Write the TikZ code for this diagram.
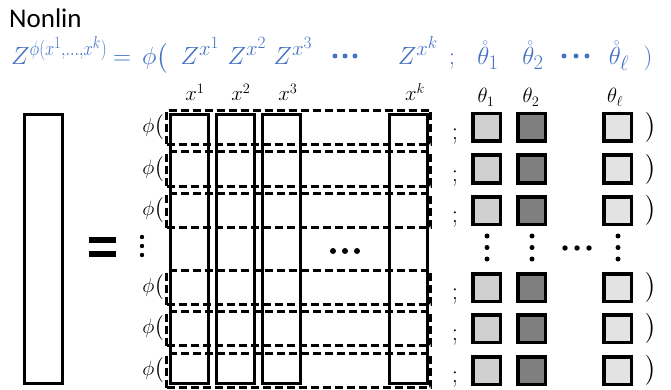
\documentclass[tikz,border=0pt]{standalone}
\usepackage{amsmath,amssymb}
\usepackage[no-math]{fontspec}
\usetikzlibrary{positioning}
\newfontfamily\titlefont{Carlito}
\definecolor{zblue}{RGB}{68,114,196}
\definecolor{thlight}{RGB}{208,208,208}
\definecolor{thdark}{RGB}{127,127,127}
\definecolor{thpale}{RGB}{227,227,227}

\begin{document}
\begin{tikzpicture}[x=1pt, y=-1pt,
    colbox/.style={draw, line width=3pt, inner sep=0pt,
                   minimum width=38pt, minimum height=269pt},
    rowbox/.style={draw, line width=3pt, dash pattern=on 8pt off 4pt,
                   inner sep=0pt, minimum width=264pt, minimum height=34pt},
    parbox/.style={draw, line width=3.5pt, inner sep=0pt, minimum size=27.5pt},
    lbl/.style={anchor=base, inner sep=0pt, font=\fontsize{20.74}{24}\selectfont},
    eqn/.style={anchor=base, inner sep=0pt, text=zblue,
                font=\fontsize{24.88}{30}\selectfont}
  ]
  \useasboundingbox (0,0) rectangle (671,390);

  % title and formula
  \node[anchor=base west, inner sep=0pt, font=\titlefont\fontsize{27}{32}\selectfont]
    (title) at (9,28) {Nonlin};
  \node[eqn, anchor=base west] (lhs) at (11,65)
    {$Z^{\scalebox{0.8}[1]{$\scriptstyle\phi(x^1,\ldots,x^k)$}}$};
  \node[eqn] (eq) at (122,65) {$=$};
  \node[eqn] (open) at (155,65) {$\phi\big($};
  \node[eqn] (z1) at (200,65) {$Z^{x^1}$};
  \node[eqn] (z2) at (247,65) {$Z^{x^2}$};
  \node[eqn] (z3) at (293,65) {$Z^{x^3}$};
  \node[eqn] (zk) at (418,65) {$Z^{x^k}$};
  \node[eqn] (semi) at (452,65) {$;$};
  \node[eqn] (t1) at (488,65) {$\mathring{\theta}_1$};
  \node[eqn] (t2) at (533,65) {$\mathring{\theta}_2$};
  \node[eqn] (tl) at (619,65) {$\mathring{\theta}_\ell$};
  \node[eqn] (close) at (648,65) {$)$};
  \foreach \xx in {335,345,355,564,576,587}
    \fill[zblue] (\xx,56) circle (2.5);

  % left column and equals
  \node[colbox] (out) at (43.5,249) {};
  \fill (89,237) rectangle (116,243);
  \fill (89,250.5) rectangle (116,257);

  % input columns
  \foreach \c/\xx in {1/189.5, 2/235.5, 3/281.5, k/408.5}
    \node[colbox] (col\c) at (\xx,249) {};
  \node[lbl] (lx1) at (195,101) {$x^1$};
  \node[lbl] (lx2) at (241,101) {$x^2$};
  \node[lbl] (lx3) at (288,101) {$x^3$};
  \node[lbl] (lxk) at (415,101) {$x^k$};
  \node[lbl] (lt1) at (486,103) {$\theta_1$};
  \node[lbl] (lt2) at (531,103) {$\theta_2$};
  \node[lbl] (ltl) at (615,103) {$\theta_\ell$};

  % rows
  \foreach \r/\yy in {1/127.5, 2/169, 3/210.5, 5/287.5, 6/328.5, 7/370.5} {
    \node[rowbox] (row\r) at (298.5,\yy) {};
    \node[lbl] (phi\r) [left=1pt of row\r] {$\phi\big($};
    \node[eqn, text=black] (semi\r) at (455,\yy+12) {$;$};
    \node[parbox, fill=thlight] (tha\r) at (486.5,\yy) {};
    \node[parbox, fill=thdark] (thb\r) at (531.5,\yy) {};
    \node[parbox, fill=thpale] (thl\r) at (617.5,\yy) {};
    \node[eqn, text=black] (close\r) [right=12pt of thl\r] {$\big)$};
  }

  % dots
  \foreach \yy in {237,246,255}
    \fill (142,\yy) circle (2.2);
  \foreach \xx in {333,345,357}
    \fill (\xx,251) circle (3);
  \foreach \xx in {487,532,618}
    \foreach \yy in {236,247.5,259}
      \fill (\xx,\yy) circle (2.5);
  \foreach \xx in {565,577,589}
    \fill (\xx,248) circle (2.7);
\end{tikzpicture}
\end{document}
